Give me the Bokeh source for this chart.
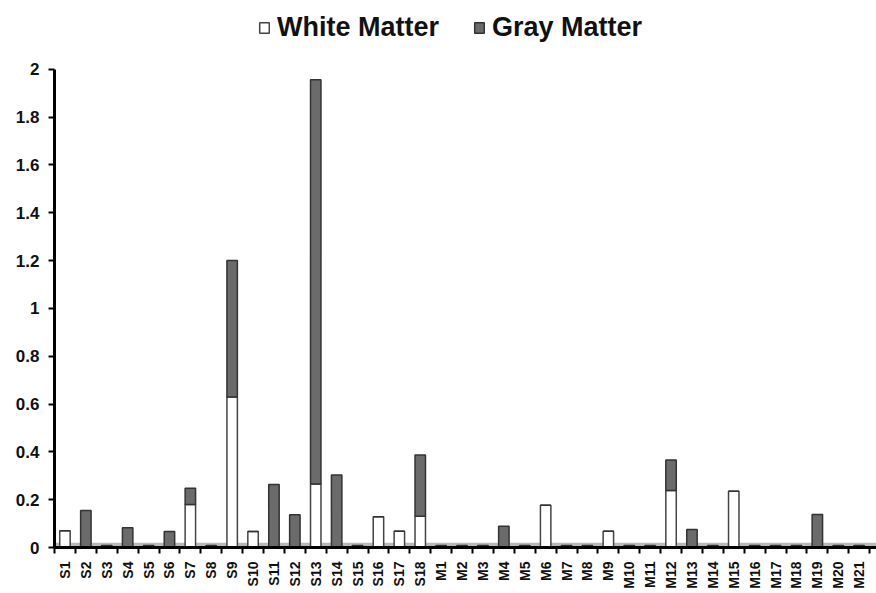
import numpy as np
from bokeh.plotting import figure
from bokeh.models import (ColumnDataSource, FixedTicker, Legend, LegendItem,
                          BoxAnnotation, Range1d)
from bokeh.transform import stack
from bokeh.embed import file_html
from bokeh.resources import INLINE

categories = ["S1", "S2", "S3", "S4", "S5", "S6", "S7", "S8", "S9", "S10",
              "S11", "S12", "S13", "S14", "S15", "S16", "S17", "S18",
              "M1", "M2", "M3", "M4", "M5", "M6", "M7", "M8", "M9", "M10",
              "M11", "M12", "M13", "M14", "M15", "M16", "M17", "M18", "M19",
              "M20", "M21"]
white_matter = [0.07, 0, 0, 0, 0, 0, 0.18, 0, 0.63, 0.067,
                0, 0, 0.266, 0, 0, 0.129, 0.068, 0.131,
                0, 0, 0, 0, 0, 0.177, 0, 0, 0.068, 0,
                0, 0.238, 0, 0, 0.235, 0, 0, 0, 0,
                0, 0]
gray_matter = [0, 0.155, 0.008, 0.083, 0.008, 0.067, 0.068, 0.008, 0.57, 0,
               0.263, 0.137, 1.69, 0.303, 0.008, 0, 0, 0.256,
               0.008, 0.008, 0.008, 0.089, 0.008, 0, 0.008, 0.008, 0, 0.008,
               0.008, 0.128, 0.075, 0.008, 0, 0.008, 0.008, 0.008, 0.138,
               0.008, 0.008]
y_ticks = [0, 0.2, 0.4, 0.6, 0.8, 1, 1.2, 1.4, 1.6, 1.8, 2]
y_tick_labels = ["0", "0.2", "0.4", "0.6", "0.8", "1", "1.2", "1.4", "1.6", "1.8", "2"]

n = len(categories)
xs = list(range(n))
source = ColumnDataSource(dict(x=xs, white=white_matter, gray=gray_matter))

FONT = "Liberation Sans"

p = figure(width=876, height=593, output_backend="svg", toolbar_location=None,
           x_range=Range1d(-0.5, 38.83), y_range=Range1d(0, 2.288),
           min_border_left=54, min_border_right=0, min_border_top=0,
           min_border_bottom=46)
p.outline_line_color = None
p.xgrid.visible = False
p.ygrid.visible = False

floor = BoxAnnotation(bottom=0, top=0.02, fill_color="#bababa", fill_alpha=1,
                      line_color=None, level="underlay")
p.add_layout(floor)

r_white = p.vbar(x="x", width=0.5, bottom=0, top="white", source=source,
                 fill_color="white", line_color="#444444", line_width=1.5)
r_gray = p.vbar(x="x", width=0.5, bottom=stack("white"),
                top=stack("white", "gray"), source=source,
                fill_color="#6b6b6b", line_color="#333333", line_width=1.5)

# y axis
p.yaxis.ticker = FixedTicker(ticks=y_ticks)
p.yaxis.major_label_overrides = {t: l for t, l in zip(y_ticks, y_tick_labels)}
p.yaxis.bounds = (0, 2)
p.yaxis.axis_line_width = 3
p.yaxis.axis_line_color = "black"
p.yaxis.major_tick_out = 6
p.yaxis.major_tick_in = 0
p.yaxis.major_tick_line_width = 2
p.yaxis.minor_tick_line_color = None
p.yaxis.major_label_text_font = FONT
p.yaxis.major_label_text_font_style = "bold"
p.yaxis.major_label_text_font_size = "17px"
p.yaxis.major_label_text_color = "#111111"
p.yaxis.major_label_standoff = 9

# x axis
boundaries = [i - 0.5 for i in range(n + 1)]
p.xaxis.ticker = FixedTicker(ticks=xs, minor_ticks=boundaries)
p.xaxis.major_label_overrides = {i: c for i, c in enumerate(categories)}
p.xaxis.axis_line_width = 3
p.xaxis.axis_line_color = "black"
p.xaxis.major_tick_line_color = None
p.xaxis.minor_tick_out = 6
p.xaxis.minor_tick_in = 0
p.xaxis.minor_tick_line_width = 2
p.xaxis.minor_tick_line_color = "black"
p.xaxis.major_label_orientation = np.pi / 2
p.xaxis.major_label_text_font = FONT
p.xaxis.major_label_text_font_style = "bold"
p.xaxis.major_label_text_font_size = "14px"
p.xaxis.major_label_text_color = "#111111"
p.xaxis.major_label_standoff = 8

legend = Legend(items=[LegendItem(label="White Matter", renderers=[r_white]),
                       LegendItem(label="Gray Matter", renderers=[r_gray])],
                orientation="horizontal", location=(204, 504),
                label_text_font=FONT, label_text_font_style="bold",
                label_text_font_size="27px", label_text_color="#111111",
                glyph_width=12, glyph_height=13, label_standoff=7,
                spacing=34, padding=0, margin=0,
                border_line_color=None, background_fill_alpha=0)
p.add_layout(legend)

open("out.html", "w").write(file_html(p, INLINE))
